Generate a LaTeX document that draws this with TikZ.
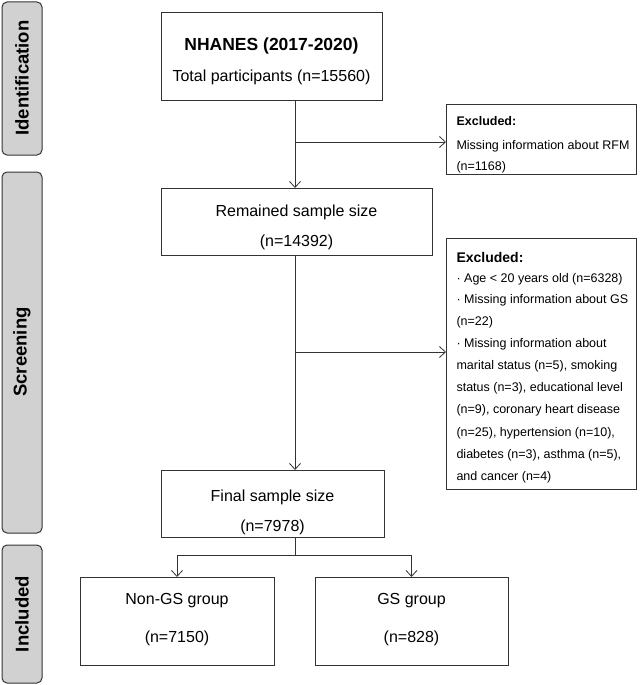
\documentclass[tikz,border=0pt]{standalone}
\usepackage{fontspec}
\setmainfont{Liberation Sans}
\begin{document}
\begin{tikzpicture}[x=1pt,y=-1pt,
  side/.style={draw=black!80,line width=1pt,fill=black!18,rounded corners=5pt},
  sidetext/.style={rotate=90,font=\bfseries\fontsize{18.5}{20}\selectfont},
  box/.style={draw=black!80,line width=0.8pt},
  ln/.style={draw=black!80,line width=0.8pt},
  arr/.style={ln,->,>={Straight Barb[length=6pt,width=11pt]}},
  big/.style={font=\fontsize{16}{19}\selectfont},
  sm/.style={font=\fontsize{12.5}{14}\selectfont,anchor=west}]
\usetikzlibrary{arrows.meta}
\useasboundingbox (0,0) rectangle (643,685);
% side labels
\draw[side] (2,2) rectangle (42,155);
\node[sidetext] (sid) at (22,78) {Identification};
\draw[side] (2,172) rectangle (42,533);
\node[sidetext] (ssc) at (22,352) {Screening};
\draw[side] (2,545) rectangle (42,683);
\node[sidetext] (sin) at (22,614) {Included};
% boxes
\draw[box] (161,12) rectangle (382,100);
\node[font=\bfseries\fontsize{17.5}{20}\selectfont] (t1) at (271.5,46) {NHANES (2017-2020)};
\node[big] (t2) at (271.5,77) {Total participants (n=15560)};
\coordinate (top) at (295,100);
\draw[box] (161,188) rectangle (432,255);
\node[big] at (296.5,212) {Remained sample size};
\node[big] at (296.5,242) {(n=14392)};
\coordinate (rtop) at (295,188);
\coordinate (rbot) at (295,255);
\draw[box] (161,470) rectangle (384,537);
\node[big] at (272.5,497) {Final sample size};
\node[big] at (272.5,527) {(n=7978)};
\coordinate (ftop) at (295,470);
\coordinate (fbot) at (295,537);
\draw[box] (80,577) rectangle (274,665);
\node[big] at (177,601) {Non-GS group};
\node[big] at (177,638) {(n=7150)};
\draw[box] (315,577) rectangle (508,665);
\node[big] at (411.5,601) {GS group};
\node[big] at (411.5,638) {(n=828)};
\coordinate (ntop) at (177,577);
\coordinate (gtop) at (411.5,577);
% excluded boxes
\draw[box] (446,104) rectangle (636,174);
\node[sm,font=\bfseries\fontsize{12.5}{14}\selectfont] at (453,121) {Excluded:};
\node[sm] at (453,146) {Missing information about RFM};
\node[sm] at (453,167) {(n=1168)};
\draw[box] (446,238) rectangle (636,489);
\node[sm,font=\bfseries\fontsize{14}{16}\selectfont] at (453,257) {Excluded:};
\node[sm] at (453,279) {· Age < 20 years old (n=6328)};
\node[sm] at (453,300) {· Missing information about GS};
\node[sm] at (453,322) {(n=22)};
\node[sm] at (453,344) {· Missing information about};
\node[sm] at (453,366) {marital status (n=5), smoking};
\node[sm] at (453,388) {status (n=3), educational level};
\node[sm] at (453,410) {(n=9), coronary heart disease};
\node[sm] at (453,433) {(n=25), hypertension (n=10),};
\node[sm] at (453,455) {diabetes (n=3), asthma (n=5),};
\node[sm] at (453,477) {and cancer (n=4)};
% connectors
\draw[arr] (top) -- (rtop);
\coordinate (b1) at (295,142);
\coordinate (e1) at (446,142);
\draw[arr] (b1) -- (e1);
\draw[arr] (rbot) -- (ftop);
\coordinate (b2) at (295,352);
\coordinate (e2) at (446,352);
\draw[arr] (b2) -- (e2);
\coordinate (sp) at (295,555);
\draw[ln] (fbot) -- (sp);
\draw[ln] (177,555) -- (411.5,555);
\draw[arr] (177,555) -- (ntop);
\draw[arr] (411.5,555) -- (gtop);
\end{tikzpicture}
\end{document}
